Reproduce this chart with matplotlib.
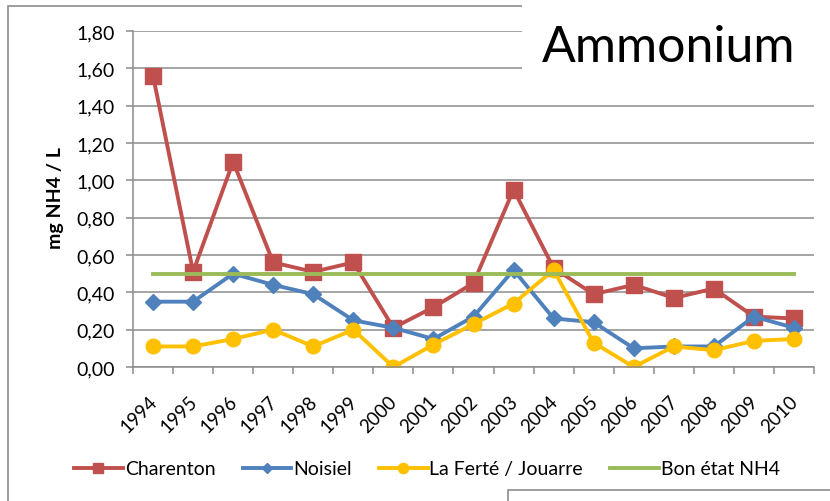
import numpy as np
import matplotlib
matplotlib.use("Agg")
import matplotlib.pyplot as plt
from matplotlib.patches import Rectangle
from matplotlib.ticker import FuncFormatter, MultipleLocator
from matplotlib.transforms import ScaledTranslation

plt.rcParams["font.family"] = ["Lato", "DejaVu Sans"]

years = ["1994", "1995", "1996", "1997", "1998", "1999", "2000", "2001", "2002",
         "2003", "2004", "2005", "2006", "2007", "2008", "2009", "2010"]

charenton = [1.56, 0.51, 1.10, 0.56, 0.51, 0.56, 0.21, 0.32, 0.45,
             0.95, 0.53, 0.39, 0.44, 0.37, 0.42, 0.27, 0.26]
noisiel = [0.35, 0.35, 0.50, 0.44, 0.39, 0.25, 0.21, 0.15, 0.27,
           0.52, 0.26, 0.24, 0.10, 0.11, 0.11, 0.27, 0.21]
la_ferte = [0.11, 0.11, 0.15, 0.20, 0.11, 0.20, 0.00, 0.12, 0.23,
            0.34, 0.52, 0.13, 0.00, 0.11, 0.09, 0.14, 0.15]
bon_etat = [0.50] * len(years)

W, H = 830, 502


def fx(x):
    return x / W


def fy(y):
    return 1 - y / H


fig = plt.figure(figsize=(W / 100, H / 100), dpi=100)
ax = fig.add_axes([fx(133), fy(368), fx(814) - fx(133), fy(32) - fy(368)])

x = np.arange(len(years))
ax.plot(x, charenton, color="#C0504D", lw=2.8, marker="s", ms=11, label="Charenton")
ax.plot(x, noisiel, color="#4F81BD", lw=2.8, marker="D", ms=8, label="Noisiel")
ax.plot(x, la_ferte, color="#FFC000", lw=2.8, marker="o", ms=10.5, label="La Ferté / Jouarre")
ax.plot(x, bon_etat, color="#9BBB59", lw=2.8, label="Bon état NH4")

ax.set_xlim(-0.5, len(years) - 0.5)
ax.set_ylim(0, 1.8)
ax.yaxis.set_major_locator(MultipleLocator(0.2))
ax.yaxis.set_major_formatter(FuncFormatter(lambda v, p: f"{v:.2f}".replace(".", ",")))
ax.grid(axis="y", color="#8c8c8c", lw=1.1)
ax.set_axisbelow(True)

ax.set_xticks(x)
ax.set_xticklabels(years, rotation=45, ha="right", va="top", rotation_mode="anchor")
ax.set_xticks(np.arange(len(years) + 1) - 0.5, minor=True)
ax.tick_params(axis="x", which="major", length=0, pad=18, labelsize=13.5)
ax.tick_params(axis="x", which="minor", length=5, color="#8c8c8c", width=1.1)
ax.tick_params(axis="y", length=5, color="#8c8c8c", width=1.1, labelsize=14, pad=8)

# nudge rotated year labels slightly left
shift = ScaledTranslation(-5 / 100, 0, fig.dpi_scale_trans)
for lab in ax.get_xticklabels():
    lab.set_transform(lab.get_transform() + shift)

for s in ["top", "right"]:
    ax.spines[s].set_visible(False)
for s in ["left", "bottom"]:
    ax.spines[s].set_color("#8c8c8c")
    ax.spines[s].set_linewidth(1.1)

fig.text(fx(56), fy(198), "mg NH4 / L", rotation=90, ha="center", va="center",
         fontsize=14, fontweight="bold")

fig.legend(loc="center", bbox_to_anchor=(fx(427), fy(470)), ncol=4, frameon=False,
           fontsize=14, handlelength=2.5, handletextpad=0.1, columnspacing=1.4,
           markerscale=0.7)

# outer chart border and overlapping slide boxes
fig.patches.append(Rectangle((fx(8), fy(520)), fx(850) - fx(8), fy(7) - fy(520),
                             transform=fig.transFigure, fill=False, ec="#8c8c8c", lw=1.2, zorder=1))
fig.patches.append(Rectangle((fx(522), fy(93)), fx(850) - fx(522), fy(-10) - fy(93),
                             transform=fig.transFigure, fc="white", ec="none", zorder=5))
fig.text(fx(542), fy(62), "Ammonium", fontsize=36, ha="left", va="baseline", zorder=6)
fig.patches.append(Rectangle((fx(508), fy(520)), fx(850) - fx(508), fy(491) - fy(520),
                             transform=fig.transFigure, fc="white", ec="#8c8c8c", lw=1.2, zorder=5))

fig.savefig("out.png", dpi=100)
